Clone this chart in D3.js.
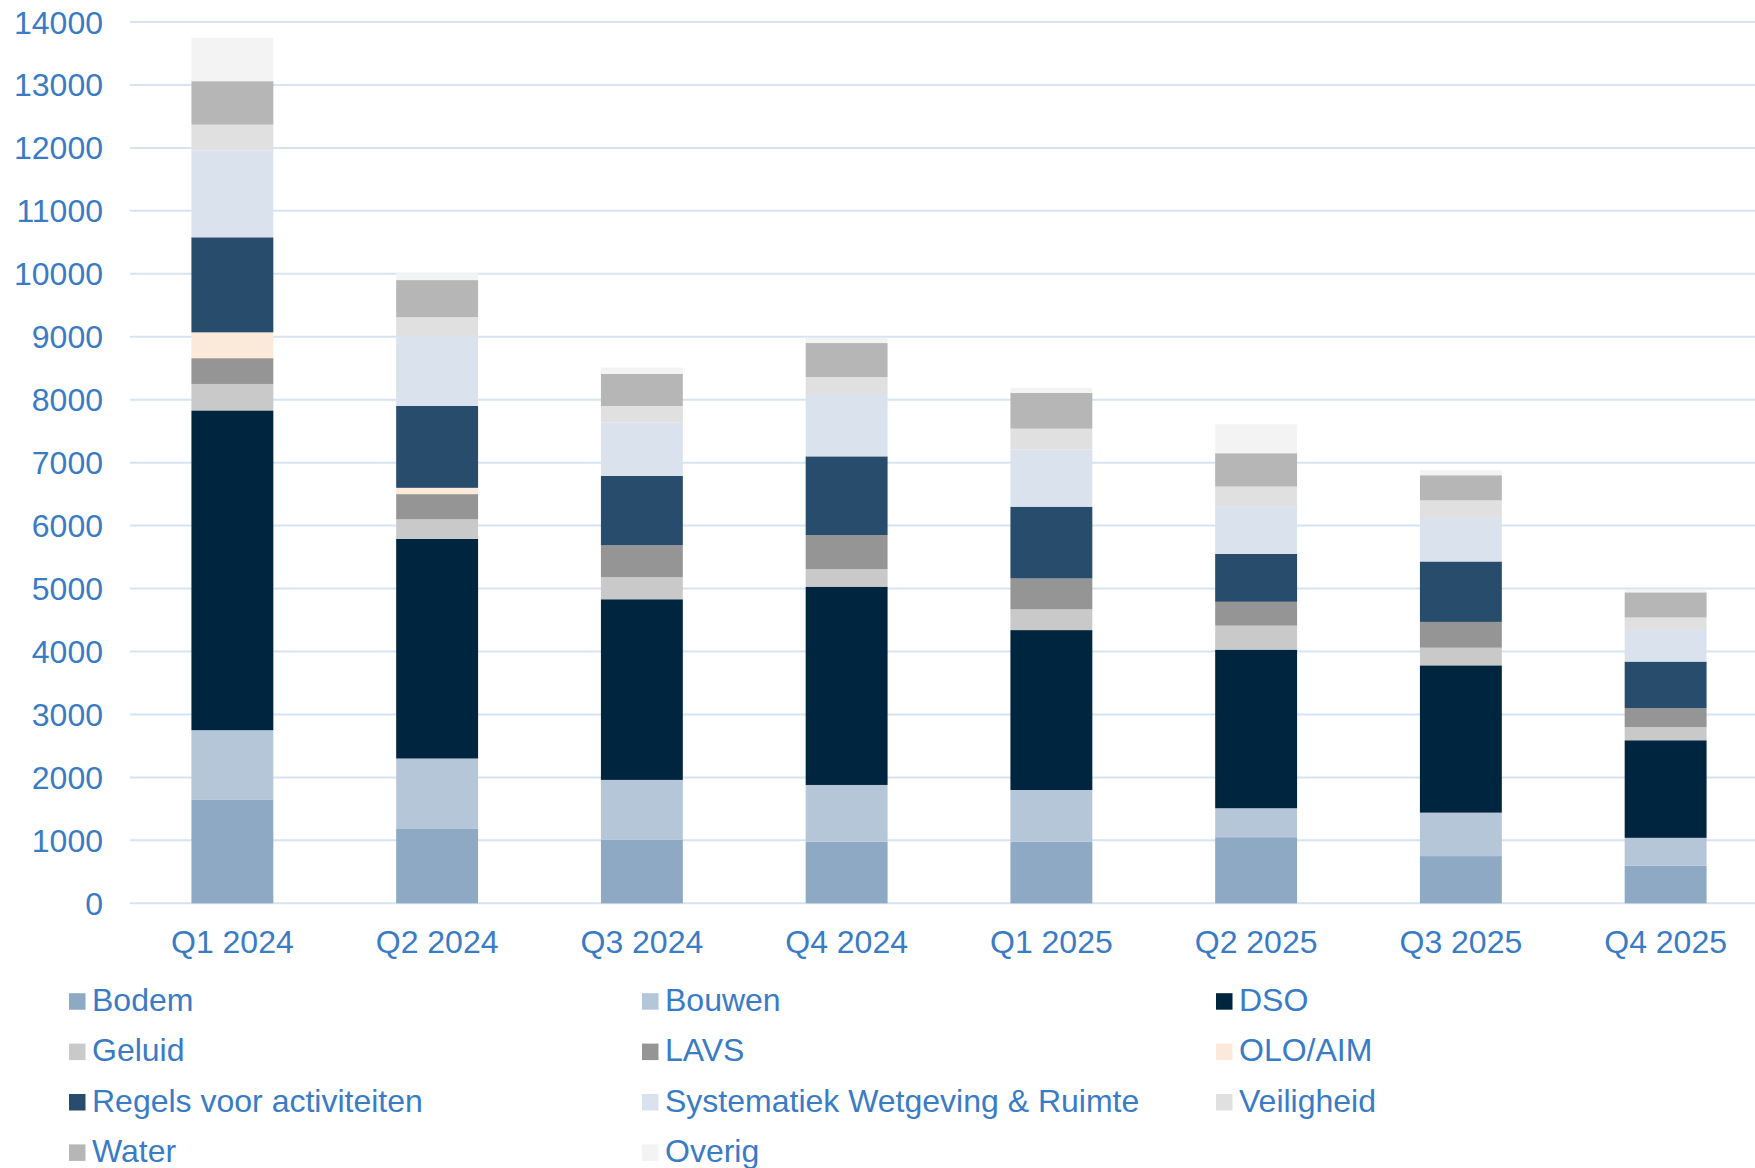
<!DOCTYPE html>
<html>
<head>
<meta charset="utf-8">
<script src="https://cdn.jsdelivr.net/npm/d3@7"></script>
<style>
  body { margin: 0; background: #fff; }
  svg { display: block; font-family: "Liberation Sans", Arial, sans-serif; }
  .tick-label { fill: #3a7bc6; font-size: 32px; }
  .legend-title { fill: #3a7bc6; font-size: 32px; }
  .grid line { stroke: #d6e4f2; stroke-width: 2; }
</style>
</head>
<body>
<div class="chart-container"></div>
<script>
var width = 1755;
var height = 1168;
var margin = {top: 22, left: 130, bottom: 903.3};

var quarters = ['Q1 2024', 'Q2 2024', 'Q3 2024', 'Q4 2024', 'Q1 2025', 'Q2 2025', 'Q3 2025', 'Q4 2025'];
var series = ['Bodem', 'Bouwen', 'DSO', 'Geluid', 'LAVS', 'OLO/AIM', 'Regels voor activiteiten',
  'Systematiek Wetgeving & Ruimte', 'Veiligheid', 'Water', 'Overig'];
var colors = ['#8ea9c3', '#b4c6d8', '#00253f', '#c9c9c9', '#959595', '#fbe9da', '#284c6c',
  '#dae3ed', '#e0e0e0', '#b6b6b6', '#f3f3f3'];

// one array per series, values per quarter
var bodem       = [1650, 1190, 1010,  980,  980, 1050,  750,  600];
var bouwen      = [1100, 1110,  950,  900,  820,  460,  690,  440];
var dso         = [5080, 3490, 2870, 3150, 2540, 2520, 2340, 1550];
var geluid      = [ 420,  310,  350,  280,  330,  380,  280,  210];
var lavs        = [ 410,  400,  510,  540,  490,  380,  410,  300];
var oloAim      = [ 410,  100,    0,    0,    0,    0,    0,    0];
var regels      = [1510, 1300, 1100, 1250, 1140,  760,  960,  740];
var systematiek = [1380, 1110,  850,  990,  910,  760,  690,  500];
var veiligheid  = [ 410,  300,  260,  270,  330,  310,  280,  200];
var water       = [ 690,  590,  510,  540,  570,  530,  400,  400];
var overig      = [ 690,  110,  100,   80,   80,  460,   80,   40];

var yTicks = [0, 1000, 2000, 3000, 4000, 5000, 6000, 7000, 8000, 9000, 10000, 11000, 12000, 13000, 14000];

var allSeries = [bodem, bouwen, dso, geluid, lavs, oloAim, regels, systematiek, veiligheid, water, overig];
var table = quarters.map(function(q, i) {
  var row = {quarter: q};
  series.forEach(function(s, j) { row[s] = allSeries[j][i]; });
  return row;
});

var x = d3.scaleBand()
  .domain(quarters)
  .range([margin.left, margin.left + 8 * 204.75])
  .paddingInner(0.6)
  .paddingOuter(0.3);

var y = d3.scaleLinear()
  .domain([0, 14000])
  .range([margin.bottom, margin.top]);

var stack = d3.stack().keys(series);
var layers = stack(table);

var svg = d3.select('.chart-container').append('svg')
  .attr('width', width)
  .attr('height', height);

// gridlines
svg.append('g')
  .attr('class', 'grid')
  .selectAll('line')
  .data(yTicks)
  .enter().append('line')
  .attr('x1', margin.left)
  .attr('x2', width)
  .attr('y1', d => y(d))
  .attr('y2', d => y(d));

// y labels
svg.append('g')
  .selectAll('text')
  .data(yTicks)
  .enter().append('text')
  .attr('class', 'tick-label')
  .attr('x', 103)
  .attr('y', d => y(d))
  .attr('dy', '0.36em')
  .attr('text-anchor', 'end')
  .text(d => d);

// bars
svg.append('g')
  .selectAll('g')
  .data(layers)
  .enter().append('g')
  .attr('fill', (d, i) => colors[i])
  .selectAll('rect')
  .data(d => d)
  .enter().append('rect')
  .attr('x', d => x(d.data.quarter))
  .attr('width', x.bandwidth())
  .attr('y', d => y(d[1]))
  .attr('height', d => y(d[0]) - y(d[1]));

// x labels
svg.append('g')
  .selectAll('text')
  .data(quarters)
  .enter().append('text')
  .attr('class', 'tick-label')
  .attr('x', d => x(d) + x.bandwidth() / 2)
  .attr('y', 952.5)
  .attr('text-anchor', 'middle')
  .text(d => d);

// legend
var legendCols = [69, 642, 1216];
var legend = svg.append('g').attr('class', 'legend');
series.forEach(function(s, i) {
  var col = i % 3;
  var row = Math.floor(i / 3);
  var entry = legend.append('g')
    .attr('transform', `translate(${legendCols[col]}, ${1010.7 + row * 50.4})`);
  entry.append('rect')
    .attr('x', 0)
    .attr('y', -17.5)
    .attr('width', 16.5)
    .attr('height', 16.5)
    .attr('fill', colors[i]);
  entry.append('text')
    .attr('class', 'legend-title')
    .attr('x', 23)
    .attr('y', 0)
    .text(s);
});
</script>
</body>
</html>
